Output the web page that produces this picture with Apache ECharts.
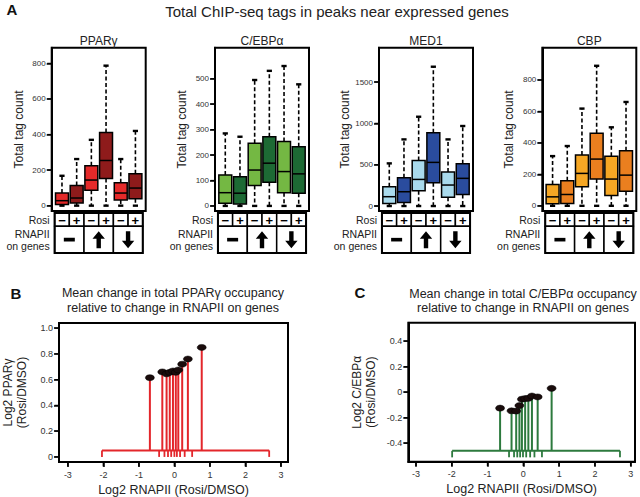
<!DOCTYPE html>
<html><head><meta charset="utf-8">
<script src="https://cdn.jsdelivr.net/npm/echarts@6/dist/echarts.min.js"></script>
<style>html,body{margin:0;padding:0;background:#fff}#c{width:640px;height:497px}</style>
</head><body><div id="c"></div><script>
// ---------------- data ----------------
const panelNames = ['PPARγ', 'C/EBPα', 'MED1', 'CBP'];
const rosiSigns = ['−', '+', '−', '+', '−', '+'];
const rnapiiGroups = ['none', 'up', 'down'];
// each box: [lowWhisker, Q1, median, Q3, highWhisker]
const ppargBoxes = [[0,7,28,71,168],[0,15,43,114,262],[0,86,144,224,370],[0,153,254,411,787],[0,32,71,129,262],[0,39,99,179,420]];
const cebpBoxes  = [[0,10,52,122,285],[0,8,50,115,272],[0,80,141,246,495],[0,93,168,272,531],[0,52,135,253,550],[0,50,126,233,478]];
const med1Boxes  = [[0,32,113,234,516],[0,44,173,343,806],[0,185,322,552,1080],[0,282,528,887,1685],[0,105,254,411,806],[0,141,335,512,968]];
const cbpBoxes   = [[0,13,57,136,316],[0,15,72,159,380],[0,121,206,323,618],[0,170,297,461,890],[0,66,170,315,499],[0,93,195,350,660]];
const ppargTicks = [0,200,400,600,800];
const cebpTicks  = [0,100,200,300,400,500];
const med1Ticks  = [0,500,1000,1500];
const cbpTicks   = [0,200,400,600,800];

const bX = [-0.69,-0.34,-0.22,-0.13,-0.04,0.04,0.11,0.22,0.38,0.77];
const bY = [0.615,0.66,0.645,0.657,0.667,0.657,0.675,0.72,0.76,0.85];
const bEdges = [-2.04,-0.43,-0.28,-0.18,-0.09,0,0.07,0.16,0.29,0.5,2.67];
const bBase = 0.05;
const cX = [-0.65,-0.33,-0.2,-0.11,-0.04,0.05,0.14,0.24,0.4,0.79];
const cY = [-0.125,-0.146,-0.148,-0.105,-0.055,-0.05,-0.048,-0.03,-0.037,0.03];
const cEdges = [-1.99,-0.4,-0.26,-0.17,-0.09,-0.01,0.08,0.19,0.31,0.52,2.7];
const cBase = -0.46;
const xTicksBC = [-3,-2,-1,0,1,2,3];
const bYTicks = [0,0.2,0.4,0.6,0.8,1.0];
const cYTicks = [-0.4,-0.2,0,0.2,0.4];

// ---------------- styles / layout ----------------
const FONT = '"Liberation Sans", Arial, sans-serif';
const boxColors = [['#e52a2a','#8e1b1b'],['#74b843','#1d6a34'],['#a9daec','#2a4c9e'],['#f6a724','#ea7f1f']];
const boxLefts = [51.7, 215, 379, 542.3];
const boxData = [ppargBoxes, cebpBoxes, med1Boxes, cbpBoxes];
const yTicksA = [ppargTicks, cebpTicks, med1Ticks, cbpTicks];
const yRangesA = [[-30,888],[-20,622],[-60,1915],[-33,1005]];
const redC = '#e3262b', greenC = '#2d7a3e';
function axisLineOn(){ return {show:true, onZero:false, lineStyle:{color:'#000', width:2}}; }
function tickOn(vals){ return {show:true, inside:false, length:5, customValues:vals, lineStyle:{color:'#000', width:1.5}}; }

const chart = echarts.init(document.getElementById('c'), null, {renderer:'svg'});

function boxRender(colors){
  return function(params, api){
    const x = api.value(0);
    const pLo = api.coord([x, api.value(1)]);
    const pQ1 = api.coord([x, api.value(2)]);
    const pMd = api.coord([x, api.value(3)]);
    const pQ3 = api.coord([x, api.value(4)]);
    const pHi = api.coord([x, api.value(5)]);
    const w = api.size([0.88, 0])[0];
    const cx = pMd[0];
    const cap = 2.6;
    const dash = {stroke:'#000', lineWidth:1.6, lineDash:[4,2.5]};
    return {type:'group', children:[
      {type:'line', shape:{x1:cx,y1:pQ3[1],x2:cx,y2:pHi[1]}, style:dash},
      {type:'line', shape:{x1:cx,y1:pQ1[1],x2:cx,y2:pLo[1]}, style:dash},
      {type:'line', shape:{x1:cx-cap,y1:pHi[1],x2:cx+cap,y2:pHi[1]}, style:{stroke:'#000',lineWidth:2.4}},
      {type:'line', shape:{x1:cx-cap,y1:pLo[1],x2:cx+cap,y2:pLo[1]}, style:{stroke:'#000',lineWidth:2.4}},
      {type:'rect', shape:{x:cx-w/2, y:pQ3[1], width:w, height:pQ1[1]-pQ3[1]}, style:{fill:colors[params.dataIndex%2], stroke:'#000', lineWidth:1.5}},
      {type:'line', shape:{x1:cx-w/2,y1:pMd[1],x2:cx+w/2,y2:pMd[1]}, style:{stroke:'#000',lineWidth:1.5}}
    ]};
  };
}

// tick marks drawn through the axis scales (outside the plot frame)
function yTickRender(xEdge){
  return function(params, api){
    const p = api.coord([xEdge, api.value(1)]);
    return {type:'line', shape:{x1:p[0]-4.5,y1:p[1],x2:p[0],y2:p[1]}, style:{stroke:'#000',lineWidth:1.2}};
  };
}
function xTickRender(yEdge){
  return function(params, api){
    const p = api.coord([api.value(0), yEdge]);
    return {type:'line', shape:{x1:p[0],y1:p[1],x2:p[0],y2:p[1]+4.5}, style:{stroke:'#000',lineWidth:1.5}};
  };
}

// table cells built from rosiSigns and rnapiiGroups
const tableCells = rosiSigns.map((s,i)=>({x0:i-0.5,x1:i+0.5,y0:2,y1:3,kind:s}))
  .concat(rnapiiGroups.map((g,j)=>({x0:2*j-0.5,x1:2*j+1.5,y0:0,y1:2,kind:g})));

function tableRender(params, api){
  const c = tableCells[params.dataIndex];
  const p0 = api.coord([c.x0, c.y1]);
  const p1 = api.coord([c.x1, c.y0]);
  const cx = (p0[0]+p1[0])/2, cy = (p0[1]+p1[1])/2;
  const ch = [{type:'rect', shape:{x:p0[0],y:p0[1],width:p1[0]-p0[0],height:p1[1]-p0[1]}, style:{fill:'#fff',stroke:'#000',lineWidth:1.5}}];
  if (c.kind === '−' || c.kind === '+') {
    ch.push({type:'text', x:cx, y:cy+0.5, style:{text:c.kind, align:'center', verticalAlign:'middle', font:'bold 13px ' + FONT, fill:'#000'}});
  } else if (c.kind === 'none') {
    ch.push({type:'rect', shape:{x:cx-5.5,y:cy-1.8,width:11,height:3.6}, style:{fill:'#000'}});
  } else {
    const s = c.kind === 'up' ? -1 : 1;
    const h = 8.5, tip = 8.5*s;
    ch.push({type:'polygon', shape:{points:[
      [cx, cy+tip], [cx-6.2, cy+tip-7.5*s], [cx-2.2, cy+tip-7.5*s], [cx-2.2, cy-h*s],
      [cx+2.2, cy-h*s], [cx+2.2, cy+tip-7.5*s], [cx+6.2, cy+tip-7.5*s]
    ]}, style:{fill:'#000'}});
  }
  if (params.dataIndex === tableCells.length-1) {
    const q0 = api.coord([-0.5, 3]), q1 = api.coord([5.5, 0]);
    ch.push({type:'rect', shape:{x:q0[0],y:q0[1],width:q1[0]-q0[0],height:q1[1]-q0[1]}, style:{fill:'none',stroke:'#000',lineWidth:2}});
  }
  return {type:'group', children:ch};
}

function bracketRender(edges, base, color){
  return function(params, api){
    const y = api.coord([0, base])[1];
    const xs = edges.map(e => api.coord([e, base])[0]);
    const ch = [{type:'line', shape:{x1:xs[0],y1:y,x2:xs[xs.length-1],y2:y}, style:{stroke:color,lineWidth:2}}];
    xs.forEach(x => ch.push({type:'line', shape:{x1:x,y1:y,x2:x,y2:y+6.5}, style:{stroke:color,lineWidth:1.8}}));
    return {type:'group', children:ch};
  };
}
function stemRender(base, color){
  return function(params, api){
    const x = api.value(0);
    const p0 = api.coord([x, base]);
    const p1 = api.coord([x, api.value(1)]);
    return {type:'line', shape:{x1:p0[0],y1:p0[1],x2:p1[0],y2:p1[1]}, style:{stroke:color,lineWidth:2}};
  };
}

const grid = [], xAxis = [], yAxis = [], series = [];
for (let i = 0; i < 4; i++) {
  grid.push({left:boxLefts[i], top:47.7, width:94, height:163.3, show:true, borderColor:'#000', borderWidth:2, backgroundColor:'transparent'});
  xAxis.push({gridIndex:i, type:'value', min:-0.7, max:5.7, show:false, axisLine:{onZero:false}});
  yAxis.push({gridIndex:i, type:'value', min:yRangesA[i][0], max:yRangesA[i][1],
    axisLine:axisLineOn(), splitLine:{show:false}, axisTick:tickOn(yTicksA[i]),
    axisLabel:{customValues:yTicksA[i], formatter:v => String(v), fontSize:8, margin:6, color:'#333', fontFamily:FONT},
    name:'Total tag count', nameLocation:'middle', nameGap:27,
    nameTextStyle:{fontSize:12, color:'#222', fontFamily:FONT}});
  series.push({type:'custom', xAxisIndex:i, yAxisIndex:i, renderItem:boxRender(boxColors[i]),
    encode:{x:0, y:[1,2,3,4,5]}, data:boxData[i].map((b,k)=>[k].concat(b))});
  series.push({type:'custom', xAxisIndex:i, yAxisIndex:i, clip:false, renderItem:yTickRender(-0.7),
    encode:{x:0, y:1}, data:yTicksA[i].map(v => [-0.7, v])});
}
for (let i = 0; i < 4; i++) {
  grid.push({left:boxLefts[i], top:213, width:94, height:40});
  xAxis.push({gridIndex:4+i, type:'value', min:-0.7, max:5.7, show:false, axisLine:{onZero:false}});
  yAxis.push({gridIndex:4+i, type:'value', min:0, max:3, axisLine:{show:false, onZero:false}, axisTick:{show:false}, splitLine:{show:false},
    axisLabel:{customValues:[1,2.5], formatter:v => v === 1 ? 'RNAPII\non genes' : 'Rosi',
      fontSize:10.5, lineHeight:12, color:'#222', margin:2, fontFamily:FONT}});
  series.push({type:'custom', xAxisIndex:4+i, yAxisIndex:4+i, renderItem:tableRender,
    data:tableCells.map((c,k)=>[k])});
}
// panels B and C
const bcDefs = [
  {left:57.7, top:323, width:230.3, height:139, xmin:-3.25, xmax:3.2, ymin:-0.04, ymax:1.04, yt:bYTicks, yname:'Log2 PPARγ\n(Rosi/DMSO)', X:bX, Y:bY, E:bEdges, base:bBase, color:redC},
  {left:408.3, top:322.7, width:226.7, height:139, xmin:-3.215, xmax:3.12, ymin:-0.545, ymax:0.545, yt:cYTicks, yname:'Log2 C/EBPα\n(Rosi/DMSO)', X:cX, Y:cY, E:cEdges, base:cBase, color:greenC}
];
bcDefs.forEach((d, j) => {
  const gi = 8 + j;
  grid.push({left:d.left, top:d.top, width:d.width, height:d.height, show:true, borderColor:'#000', borderWidth:2, backgroundColor:'transparent'});
  xAxis.push({gridIndex:gi, type:'value', min:d.xmin, max:d.xmax, axisLine:axisLineOn(), splitLine:{show:false},
    axisTick:tickOn(xTicksBC),
    axisLabel:{customValues:xTicksBC, fontSize:9, margin:8, color:'#333', fontFamily:FONT},
    name:'Log2 RNAPII (Rosi/DMSO)', nameLocation:'middle', nameGap:21,
    nameTextStyle:{fontSize:12.5, color:'#222', fontFamily:FONT}});
  yAxis.push({gridIndex:gi, type:'value', min:d.ymin, max:d.ymax, axisLine:axisLineOn(), splitLine:{show:false},
    axisTick:tickOn(d.yt),
    axisLabel:{customValues:d.yt, fontSize:9, margin:6, color:'#333', fontFamily:FONT,
      formatter:v => Math.abs(v) < 1e-9 ? '0' : v.toFixed(1)},
    name:d.yname, nameLocation:'middle', nameGap:30,
    nameTextStyle:{fontSize:12, lineHeight:14, color:'#222', fontFamily:FONT}});
  series.push({type:'custom', xAxisIndex:gi, yAxisIndex:gi, renderItem:bracketRender(d.E, d.base, d.color), data:[[0, d.base]]});
  series.push({type:'custom', xAxisIndex:gi, yAxisIndex:gi, renderItem:stemRender(d.base, d.color), data:d.X.map((x,k)=>[x, d.Y[k]])});
  series.push({type:'scatter', xAxisIndex:gi, yAxisIndex:gi, symbol:'circle', symbolSize:[9,6],
    itemStyle:{color:'#1a0c0c', borderColor:'#000', borderWidth:0.5, opacity:1}, z:5,
    data:d.X.map((x,k)=>[x, d.Y[k]])});
  series.push({type:'custom', xAxisIndex:gi, yAxisIndex:gi, clip:false, renderItem:yTickRender(d.xmin),
    encode:{x:0, y:1}, data:d.yt.map(v => [d.xmin, v])});
  series.push({type:'custom', xAxisIndex:gi, yAxisIndex:gi, clip:false, renderItem:xTickRender(d.ymin),
    encode:{x:0, y:1}, data:xTicksBC.map(v => [v, d.ymin])});
});

function txt(text, x, y, font, fill){
  return {type:'text', x:x, y:y, style:{text:text, align:'center', verticalAlign:'middle', font:font, fill:fill || '#222'}};
}
const graphic = [
  txt('A', 12, 9, 'bold 15px ' + FONT, '#111'),
  txt('Total ChIP-seq tags in peaks near expressed genes', 337, 11, '15px ' + FONT),
  txt('B', 16, 293, 'bold 15px ' + FONT, '#111'),
  txt('C', 360, 292, 'bold 15px ' + FONT, '#111'),
  {type:'text', x:173, y:300.5, style:{text:'Mean change in total PPARγ occupancy\nrelative to change in RNAPII on genes', align:'center', verticalAlign:'middle', font:'12.5px ' + FONT, lineHeight:14.5, fill:'#222'}},
  {type:'text', x:523, y:300.8, style:{text:'Mean change in total C/EBPα occupancy\nrelative to change in RNAPII on genes', align:'center', verticalAlign:'middle', font:'12.5px ' + FONT, lineHeight:14.5, fill:'#222'}}
];
panelNames.forEach((n, i) => graphic.push(txt(n, boxLefts[i] + 47, 41, '12px ' + FONT)));

chart.setOption({
  animation:false,
  backgroundColor:'#fff',
  grid:grid, xAxis:xAxis, yAxis:yAxis, series:series, graphic:graphic
});
</script></body></html>
